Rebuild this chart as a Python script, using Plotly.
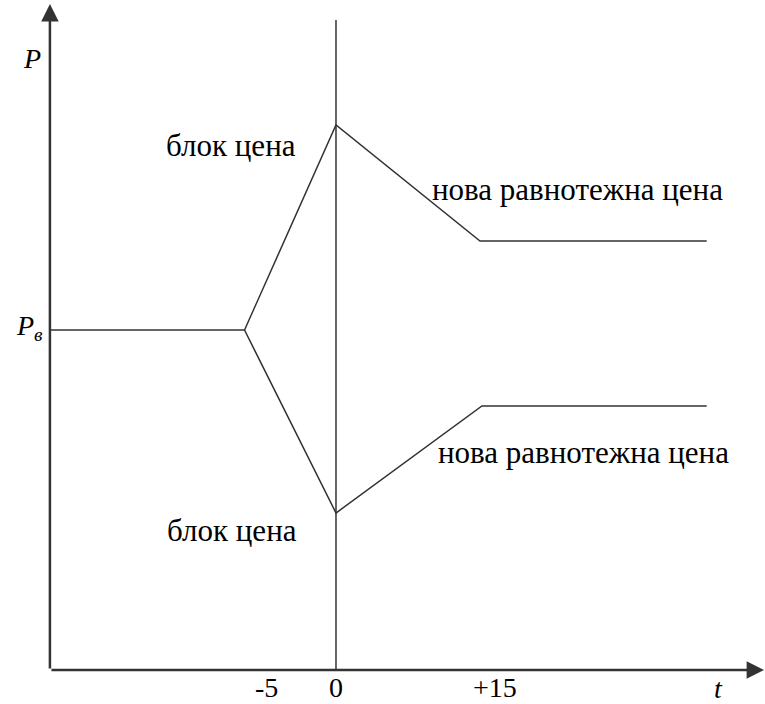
import plotly.graph_objects as go

# schematic data (t in periods, P in arbitrary price units)
t_upper = [-29.4, -9.4, 0.0, 14.8, 38.1]
p_upper = [34.0, 34.0, 54.5, 42.9, 42.9]
t_lower = [-9.4, 0.0, 15.0, 38.1]
p_lower = [34.0, 15.7, 26.4, 26.4]
t_vline = [0.0, 0.0]
p_vline = [0.0, 65.0]

tick_pos = [-7.1, 0.0, 16.3]
tick_text = ["-5", "0", "+15"]

x_min, x_max = -29.4, 44.0
y_min, y_max = 0.0, 66.6

FONT = "Liberation Serif"
LINE = "#333333"

fig = go.Figure()
fig.add_trace(go.Scatter(x=t_upper, y=p_upper, mode="lines",
                         line=dict(color=LINE, width=1.5), hoverinfo="skip"))
fig.add_trace(go.Scatter(x=t_lower, y=p_lower, mode="lines",
                         line=dict(color=LINE, width=1.5), hoverinfo="skip"))
fig.add_trace(go.Scatter(x=t_vline, y=p_vline, mode="lines",
                         line=dict(color=LINE, width=1.5), hoverinfo="skip"))

# axes with arrows
fig.add_annotation(x=x_max, y=y_min, ax=x_min, ay=y_min, xref="x", yref="y",
                   axref="x", ayref="y", showarrow=True, arrowhead=2,
                   arrowsize=1.4, arrowwidth=2.5, arrowcolor=LINE, text="")
fig.add_annotation(x=x_min, y=y_max, ax=x_min, ay=y_min, xref="x", yref="y",
                   axref="x", ayref="y", showarrow=True, arrowhead=2,
                   arrowsize=1.4, arrowwidth=2.5, arrowcolor=LINE, text="")

# tick labels
for tp, tt in zip(tick_pos, tick_text):
    fig.add_annotation(x=tp, y=y_min, text=tt, showarrow=False, yshift=-17,
                       font=dict(family=FONT, size=28, color="black"))
fig.add_annotation(x=39.3, y=y_min, text="<i>t</i>", showarrow=False, yshift=-18,
                   font=dict(family=FONT, size=28, color="black"))
fig.add_annotation(x=x_min, y=61.2, text="<i>P</i>", showarrow=False, xshift=-18,
                   font=dict(family=FONT, size=28, color="black"))
fig.add_annotation(x=x_min, y=34.0, text="<i>P</i><sub><i>в</i></sub>", showarrow=False,
                   xshift=-20, yshift=3,
                   font=dict(family=FONT, size=28, color="black"))

labels = [
    (-10.8, 52.5, "блок цена"),
    (-10.7, 14.0, "блок цена"),
    (24.8, 48.1, "нова равнотежна цена"),
    (25.4, 21.8, "нова равнотежна цена"),
]
for lx, ly, lt in labels:
    fig.add_annotation(x=lx, y=ly, text=lt, showarrow=False, xanchor="center",
                       font=dict(family=FONT, size=31, color="black"))

fig.update_layout(
    width=765, height=704, margin=dict(l=0, r=0, t=0, b=0),
    paper_bgcolor="white", plot_bgcolor="white", showlegend=False,
    font=dict(family=FONT),
    xaxis=dict(range=[-34.53, 44.09], visible=False, fixedrange=True),
    yaxis=dict(range=[-3.4, 67.0], visible=False, fixedrange=True),
)
fig.write_html("out.html", config={"displayModeBar": False},
               post_script="document.body.style.margin='0';document.body.style.overflow='hidden';")
